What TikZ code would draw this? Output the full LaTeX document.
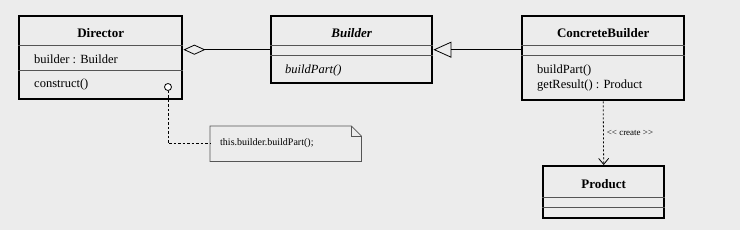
\documentclass[tikz,border=0pt]{standalone}
\usepackage{fontspec}
\setmainfont{Liberation Serif}
\usetikzlibrary{
  arrows.meta, % Pfeilspitzen
  calc % Koordinatenrechnung
}
\definecolor{hintergrund}{HTML}{ECECEC}
\definecolor{trennfarbe}{HTML}{555555}

\begin{document}
\begin{tikzpicture}[
    x=1pt, y=-1pt, % Pixel-Koordinaten, y nach unten
    klasse/.style={draw=black, line width=2.4pt, inner sep=0pt, anchor=north west}, % Klassenrahmen
    trenn/.style={draw=trennfarbe, line width=1pt}, % Trennlinien
    titel/.style={inner sep=0pt, font=\fontsize{13}{15}\selectfont\bfseries}, % Klassenname
    eintrag/.style={anchor=west, inner sep=0pt, font=\fontsize{12.5}{14}\selectfont}, % Attribute, Methoden
    aggregation/.style={line width=0.8pt, -{Diamond[open, length=22pt, width=10pt, line width=0.8pt]}},
    vererbung/.style={line width=0.8pt, -{Triangle[open, length=18pt, width=16pt, line width=0.8pt]}},
    abhaengig/.style={line width=0.8pt, dash pattern=on 2pt off 2pt, -{Straight Barb[length=6pt, width=10pt]}},
    notizlinie/.style={line width=0.8pt, dash pattern=on 2.5pt off 2pt},
  ]

  % Hintergrund
  \fill[hintergrund] (0,0) rectangle (740,230);
  \useasboundingbox (0,0) rectangle (740,230);

  % Klassen
  \node[klasse, minimum width=163pt, minimum height=83pt] (director) at (18,15) {};
  \node[klasse, minimum width=161pt, minimum height=67pt] (builder) at (270,15) {};
  \node[klasse, minimum width=162pt, minimum height=84pt] (konkret) at (521,15) {};
  \node[klasse, minimum width=121pt, minimum height=52pt] (produkt) at (542,165) {};

  % Trennlinien
  \foreach \k/\ya/\yb in {director/46/71, builder/46/56, konkret/46/56, produkt/197/207} {
    \draw[trenn] (\k.west |- 0,\ya) -- (\k.east |- 0,\ya);
    \draw[trenn] (\k.west |- 0,\yb) -- (\k.east |- 0,\yb);
  }

  % Namen
  \node[titel] (director-name) at (director.north |- 0,33) {Director};
  \node[titel, font=\fontsize{13}{15}\selectfont\bfseries\itshape] (builder-name) at (builder.north |- 0,33) {Builder};
  \node[titel] (konkret-name) at (konkret.north |- 0,33) {ConcreteBuilder};
  \node[titel] (produkt-name) at (produkt.north |- 0,184) {Product};

  % Attribute und Methoden
  \node[eintrag] (director-attr) at (34,59) {builder : Builder};
  \node[eintrag] (director-op) at (34,84) {construct()};
  \node[eintrag, font=\fontsize{12.5}{14}\selectfont\itshape] (builder-op) at (285,70) {buildPart()};
  \node[eintrag] (konkret-op1) at (537,70) {buildPart()};
  \node[eintrag] (konkret-op2) at (537,86) {getResult() : Product};

  % Beziehungen
  \draw[aggregation] (builder.west) -- (director.east |- builder.west);
  \draw[vererbung] (konkret.west |- builder.east) -- (builder.east);
  \draw[abhaengig] (konkret.south) -- (produkt.north)
    node[midway, right, inner sep=3pt, font=\fontsize{9}{10}\selectfont] (create) {{<}{<} create {>}{>}};

  % Notiz
  \node[minimum width=151pt, minimum height=35pt, inner sep=0pt, anchor=north west] (notiz) at (210,126) {};
  \draw[trennfarbe, line width=0.8pt] (notiz.north west) -- ($(notiz.north east)+(-10,0)$)
    -- ($(notiz.north east)+(0,10)$) -- (notiz.south east) -- (notiz.south west) -- cycle;
  \draw[trennfarbe, line width=0.8pt] ($(notiz.north east)+(-10,0)$) -- ++(0,10) -- ++(10,0);
  \node[eintrag, font=\fontsize{10}{12}\selectfont] (notiz-text) at (220,143) {this.builder.buildPart();};

  \node[circle, draw, line width=0.8pt, minimum size=7pt, inner sep=0pt, fill=white] (anker) at (168,87) {};
  \draw[notizlinie] (anker.south) |- (notiz.west);

\end{tikzpicture}
\end{document}
